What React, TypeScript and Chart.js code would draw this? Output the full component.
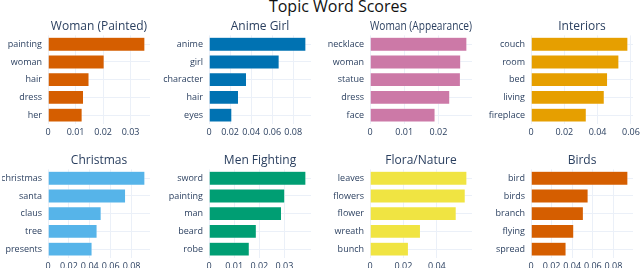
import React, { useEffect, useRef } from "react";
import { Chart, registerables } from "chart.js";

Chart.register(...registerables);

const MAIN_TITLE = "Topic Word Scores";
const FONT = "'Open Sans', 'Noto Sans', sans-serif";
const TEXT_COLOR = "#2a3f5f";
const GRID_COLOR = "#EBF0F8";

const topicNames = [
  "Woman (Painted)",
  "Anime Girl",
  "Woman (Appearance)",
  "Interiors",
  "Christmas",
  "Men Fighting",
  "Flora/Nature",
  "Birds",
];

const topicColors = ["#D55E00", "#0072B2", "#CC79A7", "#E69F00", "#56B4E9", "#009E73", "#F0E442", "#D55E00"];

const words0 = ["painting", "woman", "hair", "dress", "her"];
const scores0 = [0.0352, 0.0204, 0.0149, 0.0129, 0.0124];
const ticks0 = [0, 0.01, 0.02, 0.03];

const words1 = ["anime", "girl", "character", "hair", "eyes"];
const scores1 = [0.092, 0.0666, 0.0356, 0.028, 0.0217];
const ticks1 = [0, 0.02, 0.04, 0.06, 0.08];

const words2 = ["necklace", "woman", "statue", "dress", "face"];
const scores2 = [0.0283, 0.0265, 0.0264, 0.0233, 0.019];
const ticks2 = [0, 0.01, 0.02];

const words3 = ["couch", "room", "bed", "living", "fireplace"];
const scores3 = [0.0582, 0.0528, 0.046, 0.044, 0.0332];
const ticks3 = [0, 0.02, 0.04, 0.06];

const words4 = ["christmas", "santa", "claus", "tree", "presents"];
const scores4 = [0.0928, 0.0743, 0.0509, 0.047, 0.0422];
const ticks4 = [0, 0.02, 0.04, 0.06, 0.08];

const words5 = ["sword", "painting", "man", "beard", "robe"];
const scores5 = [0.0385, 0.0301, 0.0288, 0.0188, 0.016];
const ticks5 = [0, 0.01, 0.02, 0.03];

const words6 = ["leaves", "flowers", "flower", "wreath", "bunch"];
const scores6 = [0.058, 0.057, 0.0516, 0.0302, 0.023];
const ticks6 = [0, 0.02, 0.04];

const words7 = ["bird", "birds", "branch", "flying", "spread"];
const scores7 = [0.094, 0.0554, 0.0508, 0.0415, 0.034];
const ticks7 = [0, 0.02, 0.04, 0.06, 0.08];

const panelWords = [words0, words1, words2, words3, words4, words5, words6, words7];
const panelScores = [scores0, scores1, scores2, scores3, scores4, scores5, scores6, scores7];
const panelTicks = [ticks0, ticks1, ticks2, ticks3, ticks4, ticks5, ticks6, ticks7];

// layout (pixels)
const Y_AXIS_W = 46;
const PLOT_W = 102;
const RIGHT_PAD = 12;
const CANVAS_W = Y_AXIS_W + PLOT_W + RIGHT_PAD;
const CANVAS_H = 120;
const COL_PLOT_LEFT = [48, 209, 370, 531];
const ROW_TOP = [19, 153];

function fmt(v: number): string {
  if (Math.abs(v) < 1e-12) return "0";
  return String(Number(v.toFixed(3)));
}

type PanelProps = {
  title: string;
  words: string[];
  scores: number[];
  ticks: number[];
  color: string;
  left: number;
  top: number;
};

function Panel({ title, words, scores, ticks, color, left, top }: PanelProps) {
  const ref = useRef<HTMLCanvasElement | null>(null);
  useEffect(() => {
    if (!ref.current) return;
    const maxV = Math.max(...scores) / 0.95;
    const chart = new Chart(ref.current, {
      type: "bar",
      data: {
        labels: words,
        datasets: [
          {
            data: scores,
            backgroundColor: color,
            borderColor: "rgba(255,255,255,0.6)",
            borderWidth: 0.5,
            categoryPercentage: 1,
            barPercentage: 0.78,
          },
        ],
      },
      options: {
        indexAxis: "y",
        animation: false,
        responsive: false,
        maintainAspectRatio: false,
        devicePixelRatio: 1,
        layout: { padding: { left: 0, right: RIGHT_PAD, top: 0, bottom: 0 } },
        plugins: {
          legend: { display: false },
          tooltip: { enabled: false },
          title: {
            display: true,
            text: title,
            fullSize: false,
            color: TEXT_COLOR,
            font: { family: FONT, size: 12, weight: "normal" },
            padding: { top: 0, bottom: 2 },
          },
        },
        scales: {
          x: {
            type: "linear",
            min: 0,
            max: maxV,
            afterBuildTicks: (s: any) => {
              s.ticks = ticks.map((v) => ({ value: v }));
            },
            afterFit: (s: any) => {
              s.height = 15;
              s.paddingLeft = 0;
              s.paddingRight = 0;
            },
            grid: { color: GRID_COLOR, drawTicks: false, lineWidth: 1 },
            border: { display: false },
            ticks: {
              padding: 3,
              color: TEXT_COLOR,
              font: { family: FONT, size: 9 },
              maxRotation: 0,
              autoSkip: false,
              callback: (v: any) => fmt(Number(v)),
            },
          },
          y: {
            type: "category",
            afterFit: (s: any) => {
              s.width = Y_AXIS_W;
              s.paddingTop = 0;
              s.paddingBottom = 0;
            },
            grid: { color: GRID_COLOR, drawTicks: false, offset: false, lineWidth: 1 },
            border: { display: false },
            ticks: {
              padding: 6,
              color: TEXT_COLOR,
              font: { family: FONT, size: 9 },
              autoSkip: false,
            },
          },
        },
      },
    } as any);
    return () => chart.destroy();
  }, [title, words, scores, ticks, color]);

  return (
    <canvas
      ref={ref}
      width={CANVAS_W}
      height={CANVAS_H}
      style={{
        position: "absolute",
        left: left - Y_AXIS_W,
        top,
        width: CANVAS_W,
        height: CANVAS_H,
      }}
    />
  );
}

export default function App() {
  return (
    <div
      style={{
        position: "absolute",
        left: 0,
        top: 0,
        width: 640,
        height: 268,
        overflow: "hidden",
        background: "#ffffff",
      }}
    >
      <div
        style={{
          position: "absolute",
          left: 338,
          top: -2,
          transform: "translateX(-50%)",
          whiteSpace: "nowrap",
          fontFamily: FONT,
          fontSize: 16,
          lineHeight: "16px",
          color: "#111111",
        }}
      >
        {MAIN_TITLE}
      </div>
      {topicNames.map((name, i) => (
        <Panel
          key={i}
          title={name}
          words={panelWords[i]}
          scores={panelScores[i]}
          ticks={panelTicks[i]}
          color={topicColors[i]}
          left={COL_PLOT_LEFT[i % 4]}
          top={ROW_TOP[Math.floor(i / 4)]}
        />
      ))}
    </div>
  );
}
